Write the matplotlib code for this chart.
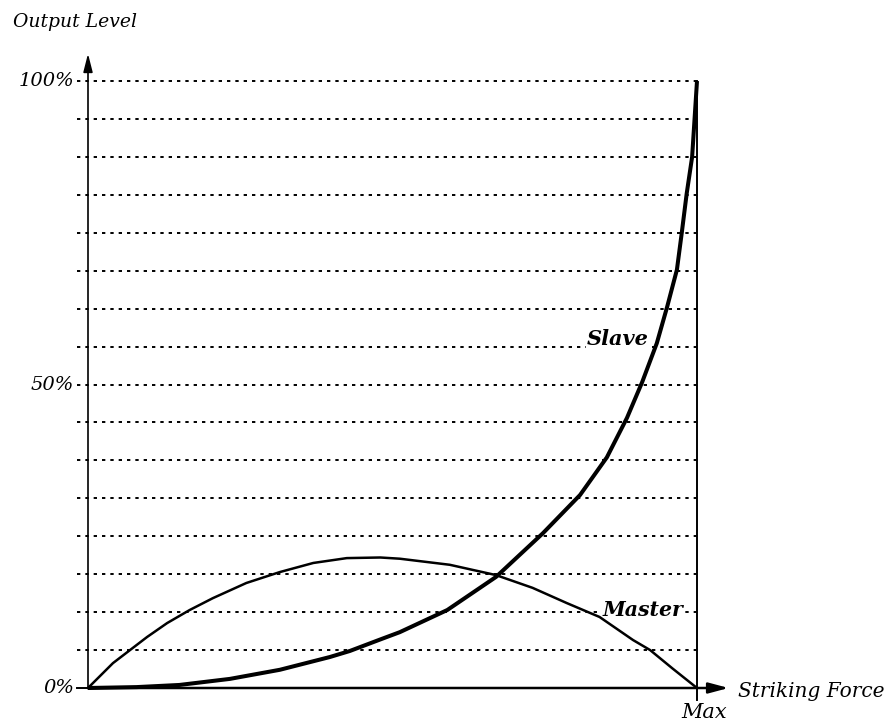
import matplotlib
matplotlib.use("Agg")
import matplotlib.pyplot as plt

plt.rcParams['lines.scale_dashes'] = False

# ---- data (fraction of max striking force, output level %) ----
slave_force = [0.0, 0.08, 0.15, 0.233, 0.315, 0.397, 0.43, 0.48, 0.512, 0.59, 0.67,
               0.747, 0.808, 0.852, 0.885, 0.91, 0.934, 0.951, 0.967, 0.975,
               0.983, 0.992, 0.996, 1.0]
slave_level = [0.0, 0.15, 0.5, 1.5, 3.0, 5.1, 6.1, 8.0, 9.2, 12.85, 18.3,
               25.5, 31.8, 38.0, 44.5, 50.4, 56.8, 62.8, 68.9, 75.0,
               81.4, 87.5, 93.75, 100.0]

master_force = [0.0, 0.041, 0.069, 0.097, 0.13, 0.167, 0.205, 0.26, 0.315,
                0.37, 0.425, 0.48, 0.512, 0.594, 0.67, 0.73, 0.786, 0.84,
                0.895, 0.923, 0.96, 1.0]
master_level = [0.0, 4.1, 6.25, 8.4, 10.7, 12.85, 14.8, 17.3, 19.1,
                20.6, 21.4, 21.5, 21.3, 20.3, 18.6, 16.5, 14.0, 11.7,
                7.9, 6.25, 3.2, 0.0]

grid_levels = [6.25 * i for i in range(1, 17)]
ytick_values = [0, 50, 100]
ytick_labels = ["0%", "50%", "100%"]

W, H = 894, 725
fig = plt.figure(figsize=(W / 100, H / 100), dpi=100)
x0, x1, y0, y1 = 88, 697, 688, 81
ax = fig.add_axes([x0 / W, (H - y0) / H, (x1 - x0) / W, (y0 - y1) / H])
ax.set_xlim(0, 1)
ax.set_ylim(0, 100)
ax.axis('off')

serif = 'DejaVu Serif'

# grid lines (dotted)
for g in grid_levels:
    ax.plot([-0.018, 1.0], [g, g], color='black', lw=1.4,
            linestyle=(0, (2.4, 3.6)), clip_on=False, zorder=1)

# right vertical line at Max
ax.plot([1.0, 1.0], [100, -2.0], color='black', lw=1.4, clip_on=False, zorder=2)

# curves
ax.plot(master_force, master_level, color='black', lw=1.8, clip_on=False, zorder=7)
ax.plot(slave_force, slave_level, color='black', lw=2.9, clip_on=False, zorder=8,
        solid_capstyle='butt', solid_joinstyle='round')

# axes with arrows
ax.plot([-0.018, 0], [0, 0], color='black', lw=1.4, clip_on=False, zorder=5)
ax.annotate('', xy=(0, 104.5), xytext=(0, 0),
            arrowprops=dict(arrowstyle='-|>,head_length=0.55,head_width=0.14',
                            lw=1.2, color='black', mutation_scale=20,
                            shrinkA=0, shrinkB=0),
            annotation_clip=False, zorder=5)
ax.annotate('', xy=(1.052, 0), xytext=(0, 0),
            arrowprops=dict(arrowstyle='-|>,head_length=0.6,head_width=0.16',
                            lw=1.8, color='black', mutation_scale=20,
                            shrinkA=0, shrinkB=0),
            annotation_clip=False, zorder=9)

# y tick labels
for v, lab in zip(ytick_values, ytick_labels):
    ax.text(-0.023, v, lab, ha='right', va='center', fontsize=14,
            family=serif, style='italic', clip_on=False)

# curve labels
bbox = dict(facecolor='white', edgecolor='none', pad=0.5)
ax.text(0.869, 56.25 + 1.2, 'Slave', ha='center', va='center', fontsize=15,
        family=serif, style='italic', weight='bold', bbox=bbox, zorder=6)
ax.text(0.911, 12.5 + 0.3, 'Master', ha='center', va='center', fontsize=14.8,
        family=serif, style='italic', weight='bold', bbox=bbox, zorder=6)

# axis titles
fig.text(13 / W, 1 - 27 / H, 'Output Level', ha='left', va='baseline',
         fontsize=13.5, family=serif, style='italic')
fig.text(738 / W, 1 - 697 / H, 'Striking Force', ha='left', va='baseline',
         fontsize=14.5, family=serif, style='italic')
fig.text(704 / W, 1 - 718 / H, 'Max', ha='center', va='baseline',
         fontsize=15, family=serif, style='italic')

fig.savefig('out.png', dpi=100, facecolor='white')
